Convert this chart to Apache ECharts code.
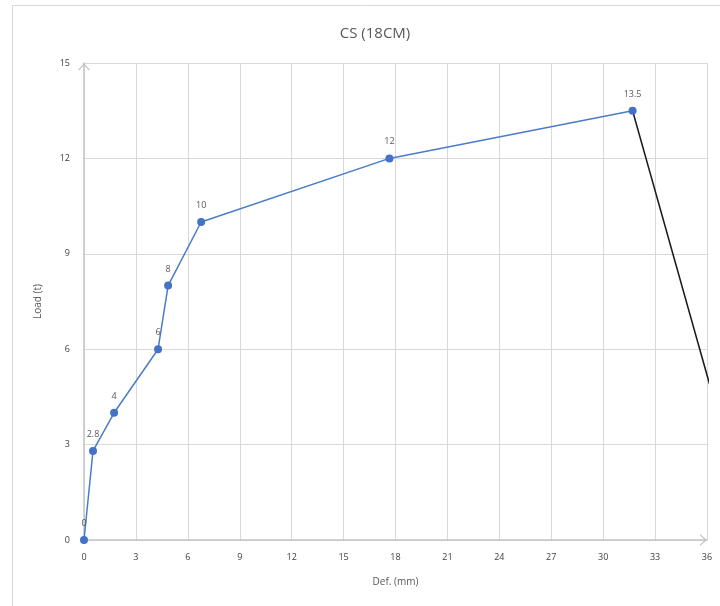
<!DOCTYPE html>
<html>
<head>
<meta charset="utf-8">
<script src="https://cdn.jsdelivr.net/npm/echarts@6/dist/echarts.min.js"></script>
<style>
  html, body { margin: 0; padding: 0; background: #fff; }
  #chart { width: 720px; height: 606px; }
</style>
</head>
<body>
<div id="chart"></div>
<script>
// Load–deflection readings for the CS (18CM) specimen
const deflection = [0, 0.52, 1.74, 4.28, 4.86, 6.77, 17.65, 31.7];
const load = [0, 2.8, 4, 6, 8, 10, 12, 13.5];
const loadLabels = ['0', '2.8', '4', '6', '8', '10', '12', '13.5'];

// Post-peak drop drawn after the last reading
const dropDeflection = [31.7, 36.15];
const dropLoad = [13.5, 4.9];

const xTicks = { min: 0, max: 36, interval: 3 };
const yTicks = { min: 0, max: 15, interval: 3 };

const font = '"Open Sans", "Liberation Sans", sans-serif';
const textGrey = '#595959';
const gridGrey = '#d9d9d9';
const axisGrey = '#c4c4c4';
// open chevron used as the arrowhead at the end of each axis
const chevron = 'path://M0,7 L6,0 L12,7 L10.4,7 L6,2 L1.6,7 Z';

const mainData = deflection.map((d, i) => [d, load[i]]);
const dropData = dropDeflection.map((d, i) => [d, dropLoad[i]]);

const axisLineStyle = {
  show: true,
  symbol: ['none', chevron],
  symbolSize: [12, 7],
  symbolOffset: [0, -3.5],
  lineStyle: { color: axisGrey, width: 1.5 }
};

const chart = echarts.init(document.getElementById('chart'));
chart.setOption({
  animation: false,
  backgroundColor: '#fff',
  title: {
    text: 'CS (18CM)',
    left: 370,
    textAlign: 'center',
    top: 21,
    textStyle: { fontFamily: font, fontSize: 15, fontWeight: 'normal', color: textGrey }
  },
  graphic: [{
    type: 'rect',
    shape: { x: 12.5, y: 5.5, width: 720, height: 620 },
    style: { fill: 'none', stroke: gridGrey, lineWidth: 1 },
    silent: true
  }],
  grid: { left: 84, right: 13, top: 63, bottom: 66 },
  xAxis: {
    type: 'value',
    min: xTicks.min, max: xTicks.max, interval: xTicks.interval,
    name: 'Def. (mm)',
    nameLocation: 'middle',
    nameGap: 37,
    nameTextStyle: { fontFamily: font, fontSize: 10, color: textGrey },
    axisLine: axisLineStyle,
    axisTick: { show: false },
    axisLabel: { fontFamily: font, fontSize: 9, color: '#404040', margin: 13 },
    splitLine: { show: true, lineStyle: { color: gridGrey, width: 1 } }
  },
  yAxis: {
    type: 'value',
    min: yTicks.min, max: yTicks.max, interval: yTicks.interval,
    name: 'Load (t)',
    nameLocation: 'middle',
    nameGap: 41,
    nameRotate: 90,
    nameTextStyle: { fontFamily: font, fontSize: 10, color: textGrey },
    axisLine: axisLineStyle,
    axisTick: { show: false },
    axisLabel: { fontFamily: font, fontSize: 9, color: '#404040', margin: 14 },
    splitLine: { show: true, lineStyle: { color: gridGrey, width: 1 } }
  },
  series: [
    {
      type: 'line',
      data: mainData,
      symbol: 'circle',
      symbolSize: 8,
      itemStyle: { color: '#4472C4' },
      lineStyle: { color: '#4a7cc8', width: 1.5 },
      label: {
        show: true,
        position: 'top',
        distance: 8,
        fontFamily: font,
        fontSize: 9,
        color: textGrey,
        formatter: p => loadLabels[p.dataIndex]
      },
      z: 3
    },
    {
      type: 'line',
      data: dropData,
      symbol: 'none',
      clip: false,
      lineStyle: { color: '#1a1a1a', width: 1.5 },
      z: 2
    }
  ]
});
</script>
</body>
</html>
